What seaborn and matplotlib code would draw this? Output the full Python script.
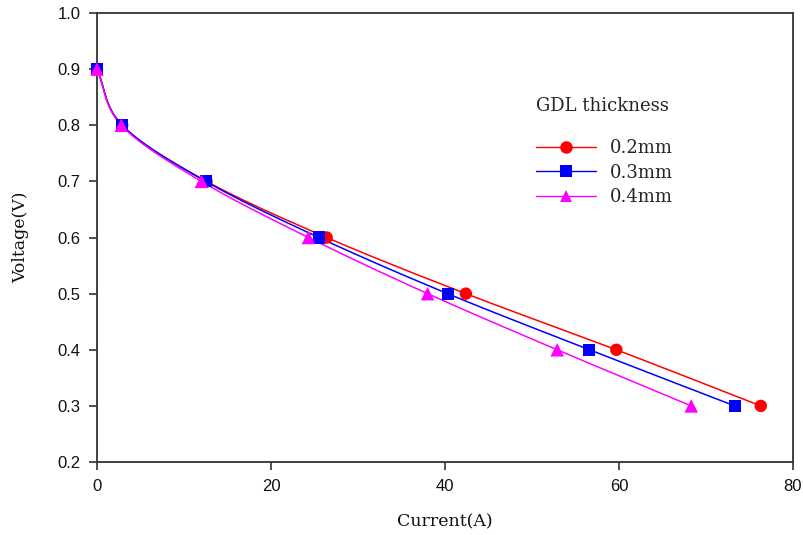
import numpy as np
import pandas as pd
import matplotlib
matplotlib.use("Agg")
import matplotlib.pyplot as plt
import seaborn as sns
from matplotlib.lines import Line2D

# Polarization data for three gas diffusion layer thicknesses
voltage = [0.9, 0.8, 0.7, 0.6, 0.5, 0.4, 0.3]
current_02 = [0.0, 2.9, 12.6, 26.4, 42.4, 59.7, 76.3]
current_03 = [0.0, 2.9, 12.5, 25.5, 40.3, 56.6, 73.3]
current_04 = [0.0, 2.8, 12.0, 24.3, 38.0, 52.9, 68.3]
labels = ["0.2mm", "0.3mm", "0.4mm"]
colors = ["#ff0000", "#0000ff", "#ff00ff"]
markers = ["o", "s", "^"]

frames = []
for lab, cur in zip(labels, [current_02, current_03, current_04]):
    frames.append(pd.DataFrame({"Current": cur, "Voltage": voltage, "GDL": lab}))
df = pd.concat(frames, ignore_index=True)


def smooth_curve(x, y, n=30):
    """Parametric Catmull-Rom path through the measured points."""
    x = np.asarray(x, float)
    y = np.asarray(y, float)
    # scale to comparable units so the curve shape follows the plot
    sx = x / 80.0
    sy = y / 0.8 * (449 / 696)
    px = np.concatenate([[2 * sx[0] - sx[1]], sx, [2 * sx[-1] - sx[-2]]])
    py = np.concatenate([[2 * sy[0] - sy[1]], sy, [2 * sy[-1] - sy[-2]]])
    outx, outy = [], []
    t = np.linspace(0, 1, n)
    for i in range(1, len(px) - 2):
        for arr, out in ((px, outx), (py, outy)):
            p0, p1, p2, p3 = arr[i - 1], arr[i], arr[i + 1], arr[i + 2]
            out.extend(0.5 * ((2 * p1) + (-p0 + p2) * t
                              + (2 * p0 - 5 * p1 + 4 * p2 - p3) * t ** 2
                              + (-p0 + 3 * p1 - 3 * p2 + p3) * t ** 3))
    return np.array(outx) * 80.0, np.array(outy) * 0.8 / (449 / 696)


sns.set_theme(style="white")
fig = plt.figure(figsize=(8.04, 5.35), dpi=100)
ax = fig.add_axes([0.1206, 0.1364, 0.8657, 0.8393])

# smooth connecting curves
for lab, col in zip(labels, colors):
    sub = df[df["GDL"] == lab]
    cx, cy = smooth_curve(sub["Current"], sub["Voltage"])
    ax.plot(cx, cy, color=col, lw=1.1, zorder=2)

# data markers, one series at a time so the last one sits on top
sizes = {"0.2mm": 80, "0.3mm": 75, "0.4mm": 95}
for k, (lab, col, mk) in enumerate(zip(labels, colors, markers)):
    sub = df[df["GDL"] == lab]
    sns.scatterplot(data=sub, x="Current", y="Voltage", color=col, marker=mk,
                    s=sizes[lab], edgecolor="none", ax=ax, legend=False,
                    zorder=3 + k, clip_on=False)

ax.set_xlim(0, 80)
ax.set_ylim(0.2, 1.0)
ax.set_xticks([0, 20, 40, 60, 80])
yt = np.round(np.arange(0.2, 1.01, 0.1), 1)
ax.set_yticks(yt)
ax.set_yticklabels([f"{v:.1f}" for v in yt])

for lbl in ax.get_xticklabels() + ax.get_yticklabels():
    lbl.set_fontfamily(["Liberation Sans", "DejaVu Sans"])
    lbl.set_fontsize(12)
    lbl.set_color("#111111")

ax.tick_params(axis="both", which="major", direction="out", length=6,
               width=1.2, color="#333333", bottom=True, left=True,
               top=False, right=False, pad=6)
for sp in ax.spines.values():
    sp.set_color("#333333")
    sp.set_linewidth(1.3)

serif = ["DejaVu Serif"]
ax.set_xlabel("Current(A)", fontfamily=serif, fontsize=12.5, labelpad=14,
              color="#111111")
ax.set_ylabel("Voltage(V)", fontfamily=serif, fontsize=12.5, labelpad=20,
              color="#111111")

# legend
handles = [Line2D([0], [0], color=c, marker=m, lw=1.0, markersize=9,
                  markeredgewidth=0)
           for c, m in zip(colors, markers)]
leg = ax.legend(handles, labels, title="GDL thickness", loc="upper left",
                bbox_to_anchor=(0.613, 0.84), frameon=False,
                prop={"family": serif, "size": 13},
                title_fontproperties={"family": serif, "size": 13},
                handlelength=3.3, handletextpad=0.8, labelspacing=0.37,
                borderpad=0.2, alignment="left")
leg._legend_box.sep = 17

fig.savefig("out.png", dpi=100)
